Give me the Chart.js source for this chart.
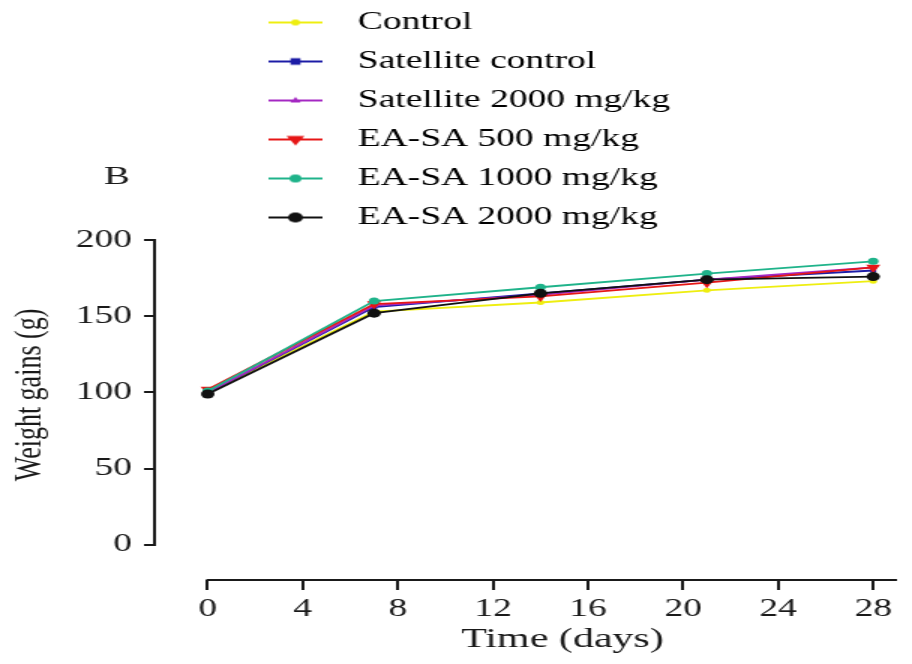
<!DOCTYPE html>
<html>
<head>
<meta charset="utf-8">
<script src="https://cdn.jsdelivr.net/npm/chart.js@4.4.1/dist/chart.umd.min.js"></script>
<style>
  body { margin: 0; background: #fff; }
</style>
</head>
<body>
<!-- the source figure is stretched sideways, so the canvas is too -->
<canvas id="chart" width="608" height="664" style="display:block;width:912px;height:664px"></canvas>
<script>
/* ===========================
   Data
   =========================== */

const days = [0, 7, 14, 21, 28];
const xTicks = [0, 4, 8, 12, 16, 20, 24, 28];
const yTicks = [0, 50, 100, 150, 200];

const seriesNames = [
  "Control",
  "Satellite control",
  "Satellite 2000 mg/kg",
  "EA-SA 500 mg/kg",
  "EA-SA 1000 mg/kg",
  "EA-SA 2000 mg/kg"
];

const control    = [100, 153, 159, 167, 173];
const satControl = [100, 156, 165, 174, 180];
const sat2000    = [100, 157, 164, 174, 182];
const easa500    = [102, 158, 163, 172, 182];
const easa1000   = [101, 160, 169, 178, 186];
const easa2000   = [99, 152, 165, 174, 176];

const allSeries = [control, satControl, sat2000, easa500, easa1000, easa2000];

/* ===========================
   Styles
   =========================== */

const FONT = "'Liberation Serif', 'Times New Roman', serif";
const INK = "#1a1a1a";
const colors = ["#eeee10", "#1c1ca6", "#a428c2", "#e61616", "#1fb38a", "#111111"];
const markers = [
  { style: "circle",   radius: 2.5, rotation: 0 },
  { style: "rect",     radius: 2.8, rotation: 0 },
  { style: "triangle", radius: 3,   rotation: 0 },
  { style: "triangle", radius: 5.5, rotation: 180 },
  { style: "circle",   radius: 3.5, rotation: 0 },
  { style: "circle",   radius: 4.5, rotation: 0 }
];
// black on top, yellow underneath
const drawOrder = [5, 4, 3, 2, 1, 0];

/* ---------------------------
   Legend icons (line + marker)
   --------------------------- */

const ICON_W = 212;

function makeIcon(color, m) {
  const c = document.createElement("canvas");
  c.width = ICON_W;
  c.height = 24;
  const g = c.getContext("2d");
  const cx = 183, cy = 12, r = m.radius + 0.5;
  g.strokeStyle = color;
  g.fillStyle = color;
  g.lineWidth = 2;
  g.beginPath();
  g.moveTo(165, cy);
  g.lineTo(201, cy);
  g.stroke();
  g.beginPath();
  if (m.style === "rect") {
    g.rect(cx - r, cy - r, 2 * r, 2 * r);
  } else if (m.style === "triangle") {
    const s = m.rotation ? -1 : 1;
    g.moveTo(cx, cy - s * r);
    g.lineTo(cx + r, cy + s * r * 0.6);
    g.lineTo(cx - r, cy + s * r * 0.6);
    g.closePath();
  } else {
    g.arc(cx, cy, r, 0, Math.PI * 2);
  }
  g.fill();
  return c;
}

const legendIcons = colors.map((col, i) => makeIcon(col, markers[i]));

/* ---------------------------
   Axis lines + panel letter
   --------------------------- */

const axisLines = {
  id: "axisLines",
  // move the axis titles to where the original has them (ticks keep their pixels)
  afterLayout(chart) {
    const x = chart.scales.x, y = chart.scales.y;
    x.right = 2 * 375 - x.left;
    y.bottom = 2 * 395 - y.top;
  },
  afterDraw(chart) {
    const { ctx, chartArea, scales } = chart;
    const x = scales.x, y = scales.y;
    ctx.save();
    ctx.strokeStyle = INK;
    ctx.lineWidth = 2;
    ctx.beginPath();
    ctx.moveTo(chartArea.left, y.getPixelForValue(200) - 1);
    ctx.lineTo(chartArea.left, y.getPixelForValue(0) + 1);
    ctx.moveTo(x.getPixelForValue(0) - 1, chartArea.bottom);
    ctx.lineTo(x.getPixelForValue(29), chartArea.bottom);
    ctx.stroke();

    ctx.fillStyle = INK;
    ctx.font = "26px " + FONT;
    ctx.textAlign = "center";
    ctx.fillText("B", 78, 177);
    ctx.restore();
  }
};

/* ===========================
   Chart
   =========================== */

new Chart(document.getElementById("chart"), {
  type: "line",
  data: {
    datasets: allSeries.map((vals, i) => ({
      label: seriesNames[i],
      data: days.map((d, j) => ({ x: d, y: vals[j] })),
      borderColor: colors[i],
      backgroundColor: colors[i],
      borderWidth: 1.8,
      pointStyle: markers[i].style,
      pointRadius: markers[i].radius,
      pointRotation: markers[i].rotation,
      pointBorderWidth: 0,
      tension: 0,
      order: drawOrder[i],
      clip: false
    }))
  },
  options: {
    responsive: false,
    devicePixelRatio: 1,
    animation: false,
    events: [],
    layout: { padding: { top: -4, right: 10, left: 0, bottom: 0 } },
    plugins: {
      tooltip: { enabled: false },
      legend: {
        position: "top",
        align: "start",
        labels: {
          usePointStyle: true,
          pointStyleWidth: ICON_W,
          padding: 14,
          color: INK,
          font: { family: FONT, size: 25 },
          generateLabels: chart => chart.data.datasets.map((ds, i) => ({
            text: ds.label,
            pointStyle: legendIcons[i],
            datasetIndex: i,
            hidden: false,
            lineWidth: 0,
            fillStyle: colors[i],
            strokeStyle: colors[i]
          }))
        }
      }
    },
    scales: {
      x: {
        type: "linear",
        min: -2.24,
        max: 29,
        afterBuildTicks: s => { s.ticks = xTicks.map(v => ({ value: v })); },
        afterFit: s => { s.height = 84; },
        border: { display: false },
        grid: { drawOnChartArea: false, drawTicks: true, tickLength: 10, color: INK, lineWidth: 2 },
        ticks: { color: INK, font: { family: FONT, size: 25 }, padding: 4, maxRotation: 0, autoSkip: false },
        title: {
          display: true,
          text: "Time (days)",
          color: INK,
          font: { family: FONT, size: 28 },
          padding: { top: 0, bottom: 8 }
        }
      },
      y: {
        min: -23,
        max: 200,
        afterBuildTicks: s => { s.ticks = yTicks.map(v => ({ value: v })); },
        afterFit: s => { s.width = 103; },
        border: { display: false },
        grid: { drawOnChartArea: false, drawTicks: true, tickLength: 7, color: INK, lineWidth: 2 },
        ticks: { color: INK, font: { family: FONT, size: 25 }, padding: 8, autoSkip: false },
        title: {
          display: true,
          text: "Weight gains (g)",
          color: INK,
          font: { family: FONT, size: 26 },
          padding: { top: 5, bottom: 0 }
        }
      }
    }
  },
  plugins: [axisLines]
});
</script>
</body>
</html>
